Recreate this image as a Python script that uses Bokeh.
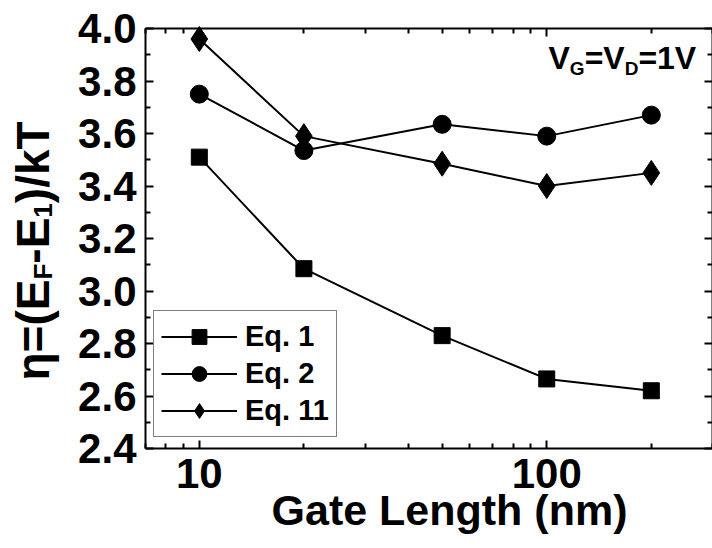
import math
from bokeh.plotting import figure
from bokeh.models import (LogAxis, LinearAxis, Label, Legend, LegendItem, Range1d,
                          FixedTicker, NumeralTickFormatter, LogScale)
from bokeh.embed import file_html
from bokeh.resources import INLINE

# ---- data ----
gate_length = [10, 20, 50, 100, 200]
eq1 = [3.51, 3.085, 2.83, 2.665, 2.62]
eq2 = [3.75, 3.535, 3.635, 3.59, 3.67]
eq11 = [3.96, 3.59, 3.485, 3.40, 3.45]
series_names = ["Eq. 1", "Eq. 2", "Eq. 11"]
x_major = [10, 100]
x_minor = [7, 8, 9, 20, 30, 40, 50, 60, 70, 80, 90, 200, 300]
y_major = [2.4, 2.6, 2.8, 3.0, 3.2, 3.4, 3.6, 3.8, 4.0]
y_minor = [2.5, 2.7, 2.9, 3.1, 3.3, 3.5, 3.7, 3.9]

FONT = "Liberation Sans"
X0, X1 = 7, 300        # axis box limits (data)
Y0, Y1 = 2.4, 4.0

# ---- layout (pixels) ----
W, H = 712, 548
PX_L, PX_R, PX_T, PX_B = 145, 712, 28, 448   # where the axis box sits on the canvas

LX0, LX1 = math.log10(X0), math.log10(X1)
KX = (LX1 - LX0) / (PX_R - PX_L)
KY = (Y1 - Y0) / (PX_B - PX_T)
xr = Range1d(10 ** (LX0 - PX_L * KX), 10 ** (LX1 + (W - PX_R) * KX))
yr = Range1d(Y0 - (H - PX_B) * KY, Y1 + PX_T * KY)

def xd(px):
    return 10 ** (LX0 + (px - PX_L) * KX)

def yd(py):
    return Y1 - (py - PX_T) * KY

p = figure(width=W, height=H, x_axis_type="log", x_range=xr, y_range=yr,
           x_axis_location=None, y_axis_location=None,
           output_backend="svg", toolbar_location=None,
           min_border_left=0, min_border_right=0,
           min_border_top=0, min_border_bottom=0)
p.x_scale = LogScale()
p.grid.visible = False
p.outline_line_color = None
p.background_fill_color = "white"
p.border_fill_color = "white"

def style_axis(ax, labels=True):
    ax.axis_line_width = 2
    ax.axis_line_color = "black"
    ax.major_tick_in = 8
    ax.major_tick_out = 0
    ax.minor_tick_in = 5
    ax.minor_tick_out = 0
    ax.major_tick_line_width = 2
    ax.minor_tick_line_width = 2
    ax.major_tick_line_color = "black"
    ax.minor_tick_line_color = "black"
    if labels:
        ax.major_label_text_font = FONT
        ax.major_label_text_font_style = "bold"
        ax.major_label_text_font_size = "42px"
        ax.major_label_text_color = "black"
    else:
        ax.major_label_text_font_size = "1px"
        ax.major_label_text_alpha = 0
        ax.major_label_standoff = 0

bottom = LogAxis(ticker=FixedTicker(ticks=x_major, minor_ticks=x_minor),
                 formatter=NumeralTickFormatter(format="0"),
                 fixed_location=Y0, bounds=(X0, X1))
style_axis(bottom)
bottom.major_label_standoff = 10
p.add_layout(bottom, "below")

top = LogAxis(ticker=FixedTicker(ticks=x_major, minor_ticks=x_minor),
              fixed_location=Y1, bounds=(X0, X1))
style_axis(top, labels=False)
p.add_layout(top, "above")

left = LinearAxis(ticker=FixedTicker(ticks=y_major, minor_ticks=y_minor),
                  formatter=NumeralTickFormatter(format="0.0"),
                  fixed_location=X0, bounds=(Y0, Y1))
style_axis(left)
left.major_label_standoff = 9
p.add_layout(left, "left")

right = LinearAxis(ticker=FixedTicker(ticks=y_major, minor_ticks=y_minor),
                   fixed_location=X1, bounds=(Y0, Y1))
style_axis(right, labels=False)
p.add_layout(right, "right")

# ---- series ----
items = []
specs = [
    (eq1, "square", 16),
    (eq2, "circle", 18),
    (eq11, "diamond", 25),
]
for name, (vals, marker, size) in zip(series_names, specs):
    lr = p.line(gate_length, vals, line_color="black", line_width=2)
    sr = p.scatter(gate_length, vals, marker=marker, size=size,
                   fill_color="black", line_color="black")
    items.append(LegendItem(label=name, renderers=[lr, sr]))

legend = Legend(items=items, location=(153, H - 437))
legend.label_text_font = FONT
legend.label_text_font_style = "bold"
legend.label_text_font_size = "29px"
legend.label_text_color = "black"
legend.border_line_color = "black"
legend.border_line_width = 1
legend.background_fill_color = "white"
legend.background_fill_alpha = 1
legend.glyph_width = 76
legend.glyph_height = 37
legend.label_standoff = 8
legend.padding = 7
legend.spacing = 0
legend.margin = 0
p.add_layout(legend)

# ---- texts ----
def add_text(x, y, text, size, angle=0, align="left"):
    p.add_layout(Label(x=x, y=y, text=text, text_font=FONT, text_font_style="bold",
                       text_font_size=f"{size}px", text_color="black",
                       angle=angle, text_align=align, text_baseline="alphabetic"))

# approximate advance widths (em) for Liberation Sans Bold
CW = {"η": 0.611, "=": 0.584, "(": 0.333, ")": 0.333, "E": 0.667, "F": 0.611,
      "-": 0.333, "1": 0.556, "/": 0.278, "k": 0.556, "T": 0.611, "V": 0.667,
      "G": 0.778, "D": 0.722}

def tw(s, size):
    return sum(CW.get(c, 0.556) for c in s) * size

# x axis title
add_text(xd(449), yd(509), "Gate Length (nm)", 43, align="center")

# y axis title: η=(E_F-E_1)/kT, rotated
MAIN, SUB = 46, 26
pos = 380
for txt, is_sub in [("η=(E", False), ("F", True), ("-E", False), ("1", True), (")/kT", False)]:
    size = SUB if is_sub else MAIN
    add_text(xd(42 if is_sub else 32), yd(pos), txt, size, angle=math.pi / 2)
    pos -= tw(txt, size)

# V_G=V_D=1V
MAIN2, SUB2 = 32, 19
posx = 548
for txt, is_sub in [("V", False), ("G", True), ("=V", False), ("D", True), ("=1V", False)]:
    size = SUB2 if is_sub else MAIN2
    add_text(xd(posx), yd(68 if is_sub else 57), txt, size)
    posx += tw(txt, size)

open("out.html", "w").write(file_html(p, INLINE))
